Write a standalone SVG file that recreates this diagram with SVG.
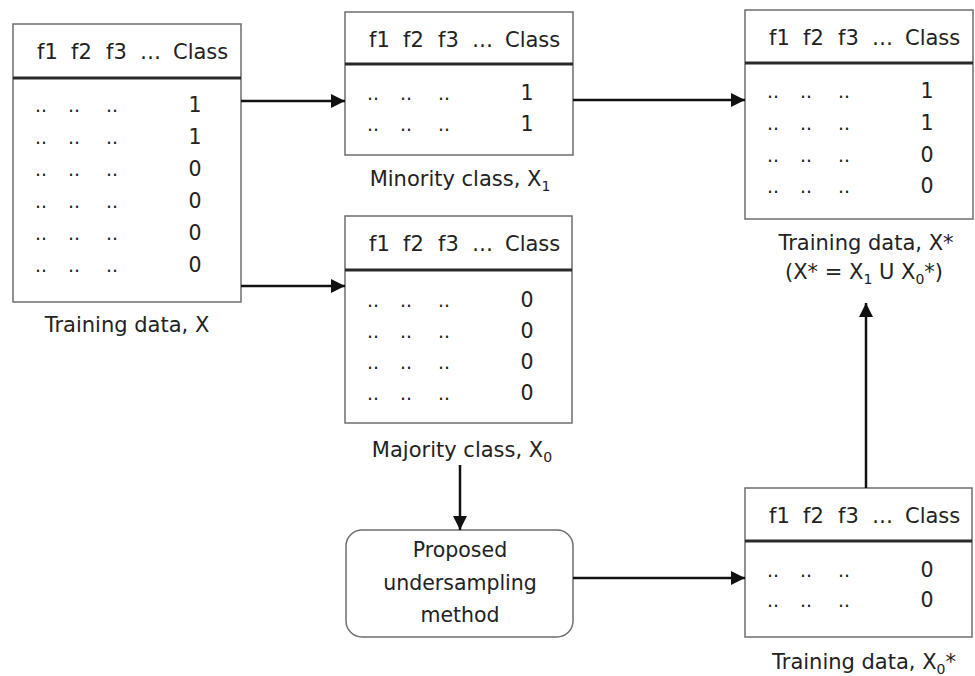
<svg xmlns="http://www.w3.org/2000/svg" width="975" height="676" viewBox="0 0 975 676">
<style>
.box{fill:#fff;stroke:#6e6e6e;stroke-width:1.5}
.dv{stroke:#2a2a2a;stroke-width:3}
text{font-family:"DejaVu Sans","Liberation Sans",sans-serif;fill:#222}
.h{font-size:21px}
.d{font-size:19px}
.v{font-size:20.5px;text-anchor:middle}
.lab{font-size:21px;text-anchor:middle}
.sub{font-size:14px}
.conn{stroke:#111;stroke-width:2.5;fill:none;marker-end:url(#ah)}
</style>
<defs>
<marker id="ah" viewBox="0 0 10 10" refX="10" refY="5" markerUnits="userSpaceOnUse" markerWidth="14" markerHeight="15" orient="auto"><path d="M0,0L10,5L0,10z" fill="#111"/></marker>
</defs>
<rect width="975" height="676" fill="#fff"/>

<g id="training-x">
<rect class="box" x="13" y="24" width="228" height="278"/>
<line class="dv" x1="13" y1="78" x2="241" y2="78"/>
<text class="h" y="59"><tspan x="37">f1</tspan><tspan x="71">f2</tspan><tspan x="106">f3</tspan><tspan x="140">…</tspan><tspan x="173">Class</tspan></text>
<text class="d" y="112"><tspan x="35">..</tspan><tspan x="68">..</tspan><tspan x="106">..</tspan></text>
<text class="d" y="144"><tspan x="35">..</tspan><tspan x="68">..</tspan><tspan x="106">..</tspan></text>
<text class="d" y="176"><tspan x="35">..</tspan><tspan x="68">..</tspan><tspan x="106">..</tspan></text>
<text class="d" y="208"><tspan x="35">..</tspan><tspan x="68">..</tspan><tspan x="106">..</tspan></text>
<text class="d" y="240"><tspan x="35">..</tspan><tspan x="68">..</tspan><tspan x="106">..</tspan></text>
<text class="d" y="272"><tspan x="35">..</tspan><tspan x="68">..</tspan><tspan x="106">..</tspan></text>
<text class="v" x="195" y="112">1</text>
<text class="v" x="195" y="144">1</text>
<text class="v" x="195" y="176">0</text>
<text class="v" x="195" y="208">0</text>
<text class="v" x="195" y="240">0</text>
<text class="v" x="195" y="272">0</text>
<text class="lab" x="127" y="332">Training data, X</text>
</g>

<g id="minority">
<rect class="box" x="345" y="12" width="228" height="143"/>
<line class="dv" x1="345" y1="64" x2="573" y2="64"/>
<text class="h" y="47"><tspan x="369">f1</tspan><tspan x="403">f2</tspan><tspan x="438">f3</tspan><tspan x="472">…</tspan><tspan x="505">Class</tspan></text>
<text class="d" y="100"><tspan x="367">..</tspan><tspan x="400">..</tspan><tspan x="438">..</tspan></text>
<text class="d" y="131"><tspan x="367">..</tspan><tspan x="400">..</tspan><tspan x="438">..</tspan></text>
<text class="v" x="527" y="100">1</text>
<text class="v" x="527" y="131">1</text>
<text class="lab" x="460" y="186">Minority class, X<tspan class="sub" dy="5">1</tspan></text>
</g>

<g id="majority">
<rect class="box" x="345" y="216" width="227" height="207"/>
<line class="dv" x1="345" y1="270" x2="572" y2="270"/>
<text class="h" y="251"><tspan x="369">f1</tspan><tspan x="403">f2</tspan><tspan x="438">f3</tspan><tspan x="472">…</tspan><tspan x="505">Class</tspan></text>
<text class="d" y="307"><tspan x="367">..</tspan><tspan x="400">..</tspan><tspan x="438">..</tspan></text>
<text class="d" y="338"><tspan x="367">..</tspan><tspan x="400">..</tspan><tspan x="438">..</tspan></text>
<text class="d" y="369"><tspan x="367">..</tspan><tspan x="400">..</tspan><tspan x="438">..</tspan></text>
<text class="d" y="400"><tspan x="367">..</tspan><tspan x="400">..</tspan><tspan x="438">..</tspan></text>
<text class="v" x="527" y="307">0</text>
<text class="v" x="527" y="338">0</text>
<text class="v" x="527" y="369">0</text>
<text class="v" x="527" y="400">0</text>
<text class="lab" x="462" y="457">Majority class, X<tspan class="sub" dy="5">0</tspan></text>
</g>

<g id="training-xstar">
<rect class="box" x="745" y="10" width="228" height="209"/>
<line class="dv" x1="745" y1="63" x2="973" y2="63"/>
<text class="h" y="45"><tspan x="769">f1</tspan><tspan x="803">f2</tspan><tspan x="838">f3</tspan><tspan x="872">…</tspan><tspan x="905">Class</tspan></text>
<text class="d" y="98"><tspan x="767">..</tspan><tspan x="800">..</tspan><tspan x="838">..</tspan></text>
<text class="d" y="130"><tspan x="767">..</tspan><tspan x="800">..</tspan><tspan x="838">..</tspan></text>
<text class="d" y="162"><tspan x="767">..</tspan><tspan x="800">..</tspan><tspan x="838">..</tspan></text>
<text class="d" y="193"><tspan x="767">..</tspan><tspan x="800">..</tspan><tspan x="838">..</tspan></text>
<text class="v" x="927" y="98">1</text>
<text class="v" x="927" y="130">1</text>
<text class="v" x="927" y="162">0</text>
<text class="v" x="927" y="193">0</text>
<text class="lab" x="866" y="250">Training data, X*</text>
<text class="lab" x="864" y="279">(X* = X<tspan class="sub" dy="5">1</tspan><tspan dy="-5"> U X</tspan><tspan class="sub" dy="5">0</tspan><tspan dy="-5">*)</tspan></text>
</g>

<g id="method">
<rect class="box" x="346" y="530" width="227" height="107" rx="16"/>
<text class="lab" style="font-size:20.5px" x="460" y="557">Proposed</text>
<text class="lab" style="font-size:20.5px" x="460" y="590">undersampling</text>
<text class="lab" style="font-size:20.5px" x="460" y="622">method</text>
</g>

<g id="training-x0star">
<rect class="box" x="745" y="488" width="227" height="149"/>
<line class="dv" x1="745" y1="541" x2="972" y2="541"/>
<text class="h" y="523"><tspan x="769">f1</tspan><tspan x="803">f2</tspan><tspan x="838">f3</tspan><tspan x="872">…</tspan><tspan x="905">Class</tspan></text>
<text class="d" y="577"><tspan x="767">..</tspan><tspan x="800">..</tspan><tspan x="838">..</tspan></text>
<text class="d" y="607"><tspan x="767">..</tspan><tspan x="800">..</tspan><tspan x="838">..</tspan></text>
<text class="v" x="927" y="577">0</text>
<text class="v" x="927" y="607">0</text>
<text class="lab" x="864" y="669">Training data, X<tspan class="sub" dy="5">0</tspan><tspan dy="-5">*</tspan></text>
</g>

<g id="connectors">
<path class="conn" d="M241,101H345"/>
<path class="conn" d="M241,286H345"/>
<path class="conn" d="M573,100H745"/>
<path class="conn" d="M460,465V530"/>
<path class="conn" d="M573,578H745"/>
<path class="conn" d="M866,488V303"/>
</g>
</svg>
